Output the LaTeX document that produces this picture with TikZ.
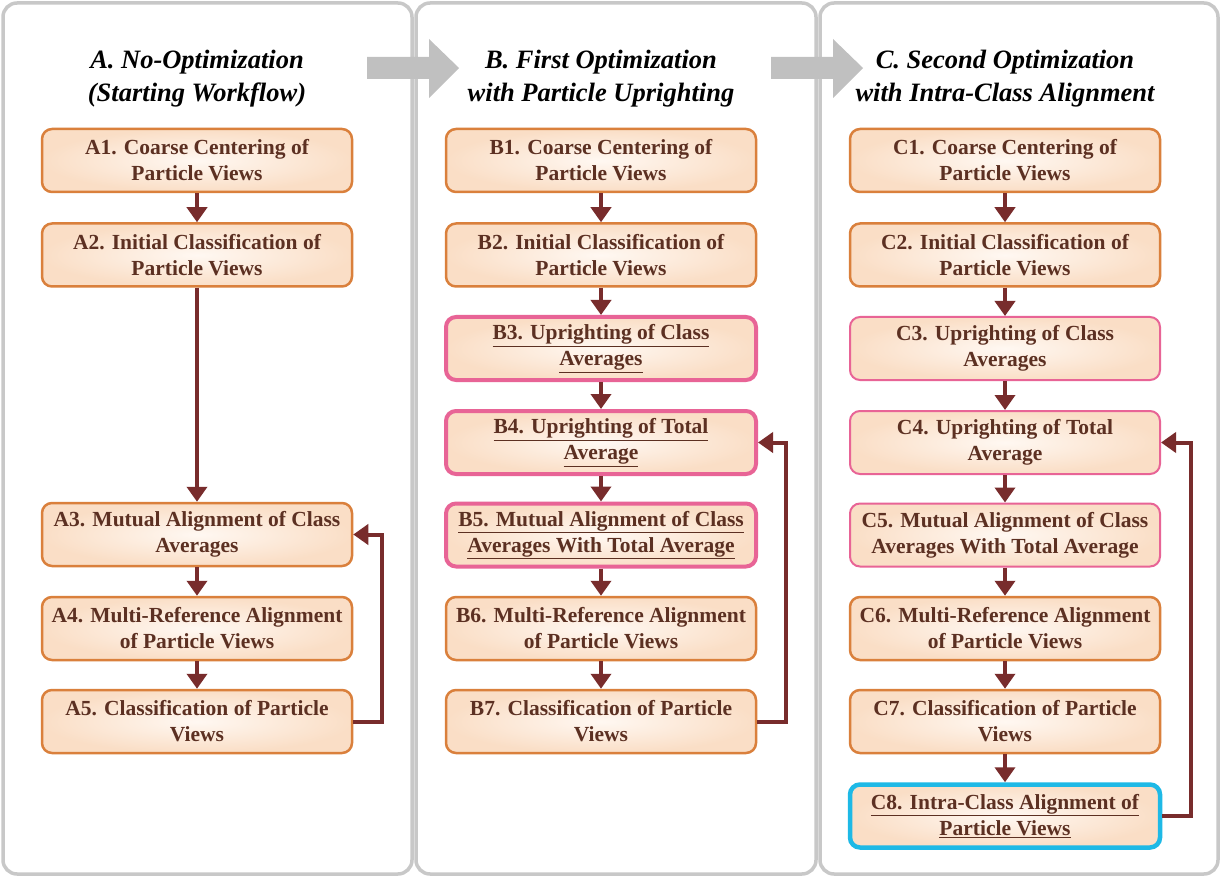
\documentclass[tikz,border=0pt]{standalone}
\usepackage{fontspec}
\setmainfont{Liberation Serif}
\usetikzlibrary{arrows.meta}
\definecolor{panelgray}{RGB}{200,200,200}
\definecolor{arrowgray}{RGB}{192,192,192}
\definecolor{txtbrown}{RGB}{92,48,34}
\definecolor{flowred}{RGB}{120,44,44}
\definecolor{boxorange}{RGB}{218,128,60}
\definecolor{boxpink}{RGB}{232,100,150}
\definecolor{boxcyan}{RGB}{30,185,230}
\definecolor{peach}{RGB}{250,222,198}
\definecolor{peachlight}{RGB}{255,248,242}
\tikzset{
  x=1pt, y=-1pt,
  panel/.style={draw=panelgray, line width=3.5pt, rounded corners=14pt, fill=white},
  stepbox/.style={draw=boxorange, line width=2.5pt, rounded corners=10pt,
    minimum width=310pt, minimum height=63pt, inner color=peachlight, outer color=peach,
    align=center, font=\fontsize{21.5}{26}\selectfont\bfseries, text=txtbrown},
  pinkbox/.style={stepbox, draw=boxpink, line width=4pt},
  pinkthin/.style={stepbox, draw=boxpink, line width=2pt},
  cyanbox/.style={stepbox, draw=boxcyan, line width=4.5pt},
  ttl/.style={align=center, font=\fontsize{26.5}{33}\selectfont\bfseries\itshape, text=black},
  flow/.style={draw=flowred, line width=4pt, -{Triangle[width=20pt,length=15pt]}},
  garrow/.style={fill=arrowgray, draw=none},
}
\newcommand{\ul}[1]{\underline{#1}}
\begin{document}
\begin{tikzpicture}
\useasboundingbox (0,0) rectangle (1221,877);
% panels
\draw[panel] (3,3) rectangle (412,874);
\draw[panel] (416,3) rectangle (816,874);
\draw[panel] (820,3) rectangle (1218,874);
% gray arrows
\fill[garrow] (367,57) -- (429,57) -- (429,39) -- (459,68) -- (429,98) -- (429,79) -- (367,79) -- cycle;
\fill[garrow] (771,57) -- (833,57) -- (833,39) -- (863,68) -- (833,98) -- (833,79) -- (771,79) -- cycle;
% titles
\node[ttl] (tA) at (197,79) {A. No-Optimization\\(Starting Workflow)};
\node[ttl] (tB) at (601,79) {B. First Optimization\\with Particle Uprighting};
\node[ttl] (tC) at (1005,79) {C. Second Optimization\\with Intra-Class Alignment};
% column A
\node[stepbox] (A1) at (197,160.5) {A1. Coarse Centering of\\Particle Views};
\node[stepbox] (A2) at (197,255) {A2. Initial Classification of\\Particle Views};
\node[stepbox] (A3) at (197,534.5) {A3. Mutual Alignment of Class\\Averages};
\node[stepbox] (A4) at (197,628.5) {A4. Multi-Reference Alignment\\of Particle Views};
\node[stepbox] (A5) at (197,721.5) {A5. Classification of Particle\\Views};
% column B
\node[stepbox] (B1) at (601,160.5) {B1. Coarse Centering of\\Particle Views};
\node[stepbox] (B2) at (601,255) {B2. Initial Classification of\\Particle Views};
\node[pinkbox] (B3) at (601,348.5) {\ul{B3. Uprighting of Class}\\\ul{Averages}};
\node[pinkbox] (B4) at (601,442.5) {\ul{B4. Uprighting of Total}\\\ul{Average}};
\node[pinkbox] (B5) at (601,535) {\ul{B5. Mutual Alignment of Class}\\\ul{Averages With Total Average}};
\node[stepbox] (B6) at (601,628.5) {B6. Multi-Reference Alignment\\of Particle Views};
\node[stepbox] (B7) at (601,721.5) {B7. Classification of Particle\\Views};
% column C
\node[stepbox] (C1) at (1005,160.5) {C1. Coarse Centering of\\Particle Views};
\node[stepbox] (C2) at (1005,255) {C2. Initial Classification of\\Particle Views};
\node[pinkthin] (C3) at (1005,348.5) {C3. Uprighting of Class\\Averages};
\node[pinkthin] (C4) at (1005,442.5) {C4. Uprighting of Total\\Average};
\node[pinkthin] (C5) at (1005,535) {C5. Mutual Alignment of Class\\Averages With Total Average};
\node[stepbox] (C6) at (1005,628.5) {C6. Multi-Reference Alignment\\of Particle Views};
\node[stepbox] (C7) at (1005,721.5) {C7. Classification of Particle\\Views};
\node[cyanbox] (C8) at (1005,816) {\ul{C8. Intra-Class Alignment of}\\\ul{Particle Views}};
% connectors
\foreach \a/\b in {A1/A2,A2/A3,A3/A4,A4/A5,B1/B2,B2/B3,B3/B4,B4/B5,B5/B6,B6/B7,C1/C2,C2/C3,C3/C4,C4/C5,C5/C6,C6/C7,C7/C8}
  \draw[flow] (\a.south) -- (\b.north);
\draw[flow] (A5.east) -- ++(29,0) |- (A3.east);
\draw[flow] (B7.east) -- ++(29,0) |- (B4.east);
\draw[flow] (C8.east) -- ++(29,0) |- (C4.east);
\end{tikzpicture}
\end{document}
